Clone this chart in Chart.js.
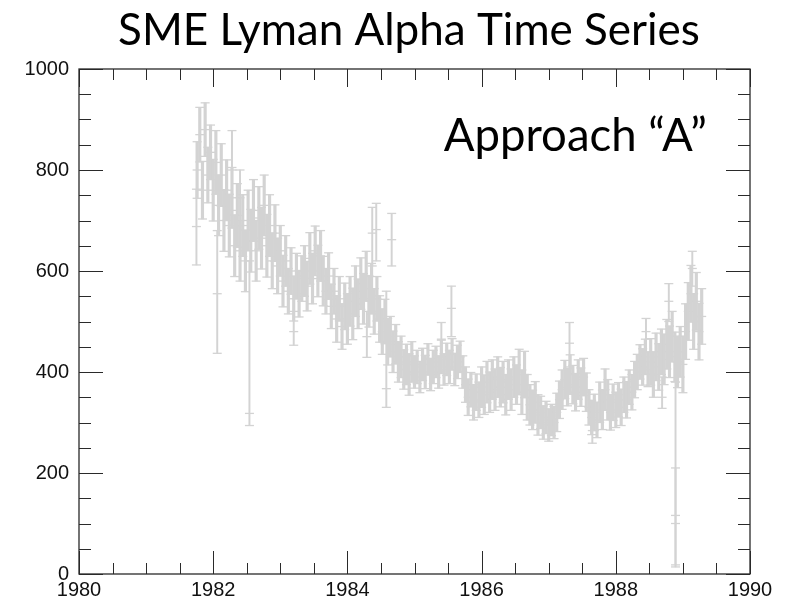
<!DOCTYPE html>
<html>
<head>
<meta charset="utf-8">
<script src="https://cdn.jsdelivr.net/npm/chart.js@4.4.0/dist/chart.umd.min.js"></script>
<style>
  html, body { margin: 0; padding: 0; background: #fff; }
</style>
</head>
<body>
<canvas id="chart" width="797" height="601"></canvas>
<script>
// SME Lyman alpha, decimal year / flux / 1-sigma error
const years = [
  1981.76, 1981.80, 1981.84, 1981.88, 1981.92, 1981.96,
  1982.00, 1982.04, 1982.08, 1982.12, 1982.16, 1982.20, 1982.24, 1982.28, 1982.32, 1982.36, 1982.40, 1982.44, 1982.48, 1982.52, 1982.56, 1982.60, 1982.64, 1982.68, 1982.72, 1982.76, 1982.80, 1982.84, 1982.88, 1982.92, 1982.96,
  1983.00, 1983.04, 1983.08, 1983.12, 1983.16, 1983.20, 1983.24, 1983.28, 1983.32, 1983.36, 1983.40, 1983.44, 1983.48, 1983.52, 1983.56, 1983.60, 1983.64, 1983.68, 1983.72, 1983.76, 1983.80, 1983.84, 1983.88, 1983.92, 1983.96,
  1984.00, 1984.04, 1984.08, 1984.12, 1984.16, 1984.20, 1984.24, 1984.28, 1984.32, 1984.36, 1984.40, 1984.44, 1984.48, 1984.52, 1984.56, 1984.60, 1984.64, 1984.68, 1984.72, 1984.76, 1984.80, 1984.84, 1984.88, 1984.92, 1984.96,
  1985.00, 1985.04, 1985.08, 1985.12, 1985.16, 1985.20, 1985.24, 1985.28, 1985.32, 1985.36, 1985.40, 1985.44, 1985.48, 1985.52, 1985.56, 1985.60, 1985.64, 1985.68, 1985.72, 1985.76, 1985.80, 1985.84, 1985.88, 1985.92, 1985.96,
  1986.00, 1986.04, 1986.08, 1986.12, 1986.16, 1986.20, 1986.24, 1986.28, 1986.32, 1986.36, 1986.40, 1986.44, 1986.48, 1986.52, 1986.56, 1986.60, 1986.64, 1986.68, 1986.72, 1986.76, 1986.80, 1986.84, 1986.88, 1986.92, 1986.96,
  1987.00, 1987.04, 1987.08, 1987.12, 1987.16, 1987.20, 1987.24, 1987.28, 1987.32, 1987.36, 1987.40, 1987.44, 1987.48, 1987.52, 1987.56, 1987.60, 1987.64, 1987.68, 1987.72, 1987.76, 1987.80, 1987.84, 1987.88, 1987.92, 1987.96,
  1988.00, 1988.04, 1988.08, 1988.12, 1988.16, 1988.20, 1988.24, 1988.28, 1988.32, 1988.36, 1988.40, 1988.44, 1988.48, 1988.52, 1988.56, 1988.60, 1988.64, 1988.68, 1988.72, 1988.76, 1988.80, 1988.84, 1988.88, 1988.92, 1988.96,
  1989.00, 1989.04, 1989.08, 1989.12, 1989.16, 1989.20, 1989.24, 1989.28
];
const lyman = [
  800, 870, 760, 880, 790, 835,
  760, 815, 730, 790, 700, 760, 690, 745, 650, 710, 640, 690, 620, 700, 660, 720, 640, 705, 665, 730, 650, 690, 620, 675, 610,
  640, 580, 620, 560, 600, 545, 590, 555, 585, 600, 570, 625, 585, 640, 600, 630, 580, 560, 590, 530, 560, 505, 545, 490, 530,
  505, 540, 515, 560, 535, 575, 545, 590, 540, 565, 520, 545, 505, 480, 500, 460, 470, 440, 455, 420, 430, 405, 415, 395, 420,
  400, 410, 390, 415, 400, 425, 395, 410, 420, 400, 430, 405, 425, 410, 435, 405, 420, 430, 400, 375, 350, 365, 340, 360, 345,
  370, 355, 380, 360, 385, 365, 390, 370, 380, 355, 385, 365, 390, 375, 400, 360, 395, 350, 335, 325, 340, 315, 320, 300, 310,
  295, 305, 300, 320, 345, 365, 385, 370, 395, 375, 360, 385, 370, 390, 360, 330, 310, 320, 305, 340, 325, 365, 345, 320, 340,
  325, 345, 330, 355, 345, 370, 360, 385, 400, 420, 410, 430, 405, 420, 395, 430, 410, 440, 425, 455, 440, 470, 430, 420, 440,
  415, 480, 520, 555, 500, 540, 480, 510
];
const errs = [
  56, 54, 57, 53, 55, 54,
  61, 63, 60, 62, 61, 60, 62, 60, 61, 63, 60, 61, 61, 60, 62, 61, 60, 62, 61, 60, 62, 61, 55, 56, 55,
  50, 51, 50, 45, 46, 44, 45, 46, 45, 50, 49, 51, 50, 49, 51, 50, 49, 45, 46, 44, 45, 46, 44, 45, 46,
  50, 49, 51, 50, 49, 51, 50, 49, 51, 50, 45, 44, 46, 45, 44, 46, 40, 41, 39, 40, 41, 39, 40, 41, 40,
  32, 33, 31, 32, 33, 31, 32, 33, 31, 32, 33, 31, 32, 33, 31, 32, 33, 31, 32, 35, 36, 34, 35, 36, 35,
  40, 39, 41, 40, 39, 41, 40, 39, 41, 40, 39, 41, 40, 39, 45, 44, 46, 45, 40, 39, 41, 40, 32, 33, 32,
  32, 31, 32, 38, 37, 39, 38, 37, 39, 38, 37, 39, 38, 37, 38, 35, 34, 36, 35, 40, 39, 41, 40, 35, 36,
  35, 34, 36, 35, 36, 34, 35, 36, 35, 34, 36, 35, 34, 46, 45, 47, 46, 45, 50, 49, 51, 50, 49, 51, 50,
  56, 55, 57, 56, 55, 57, 56, 55
];

// isolated points with long / asymmetric error bars
const outYears  = [1981.75, 1982.06, 1982.28, 1982.40, 1982.54, 1983.20, 1984.29, 1984.37, 1984.43, 1984.58, 1984.66, 1985.40, 1985.55, 1987.31, 1987.65, 1988.45, 1988.69, 1988.79, 1988.89, 1988.89, 1989.14];
const outValues = [688, 555, 800, 745, 318, 480, 470, 675, 682, 367, 662, 465, 526, 457, 284, 480, 350, 540, 116, 100, 605];
const outLow    = [612, 437, 720, 690, 294, 453, 429, 610, 620, 330, 610, 430, 470, 410, 259, 440, 328, 500, 18, 14, 570];
const outHigh   = [762, 680, 878, 800, 620, 520, 520, 726, 734, 560, 714, 498, 570, 498, 320, 506, 390, 575, 380, 210, 639];

const xLabels = [1980, 1982, 1984, 1986, 1988, 1990];
const yLabels = [0, 200, 400, 600, 800, 1000];

const grey = '#d3d3d3';

// error bar stems (floating bars) + caps/centres (line-style points)
const stems = [];
const outStems = [];
const caps = [];
years.forEach((t, i) => {
  const lo = lyman[i] - errs[i], hi = lyman[i] + errs[i];
  stems.push({ x: t, y: [lo, hi] });
  caps.push({ x: t, y: lo }, { x: t, y: hi }, { x: t, y: lyman[i] });
});
outYears.forEach((t, i) => {
  outStems.push({ x: t, y: [outLow[i], outHigh[i]] });
  caps.push({ x: t, y: outLow[i] }, { x: t, y: outHigh[i] }, { x: t, y: outValues[i] });
});

// frame with inward major/minor ticks on all four sides + the "Approach" note
const frameTicks = {
  id: 'frameTicks',
  afterDatasetsDraw(chart) {
    const { ctx, chartArea: a, scales: { x, y } } = chart;
    ctx.save();
    ctx.strokeStyle = '#2a2a2a';
    ctx.lineWidth = 1;
    ctx.beginPath();
    for (let t = 1980; t <= 1990; t += 0.5) {
      const px = Math.round(x.getPixelForValue(t)) + 0.5;
      const major = t % 2 === 0;
      ctx.moveTo(px, a.bottom);
      ctx.lineTo(px, a.bottom - (major ? 23 : 11));
      ctx.moveTo(px, a.top);
      ctx.lineTo(px, a.top + (major ? 18 : 11));
    }
    for (let v = 0; v <= 1000; v += 50) {
      const py = Math.round(y.getPixelForValue(v)) + 0.5;
      const major = v % 200 === 0;
      ctx.moveTo(a.left, py);
      ctx.lineTo(a.left + (major ? 24 : 12), py);
      ctx.moveTo(a.right, py);
      ctx.lineTo(a.right - (major ? 24 : 12), py);
    }
    ctx.stroke();
    ctx.lineWidth = 1.3;
    ctx.strokeRect(a.left, a.top, a.right - a.left, a.bottom - a.top);

    ctx.fillStyle = '#000';
    ctx.font = '45.5px Lato';
    ctx.textAlign = 'right';
    ctx.textBaseline = 'alphabetic';
    ctx.fillText('Approach \u201CA\u201D', a.right - 43, a.top + 82);
    ctx.restore();
  }
};

new Chart(document.getElementById('chart'), {
  type: 'scatter',
  data: {
    datasets: [
      {
        type: 'bar',
        data: stems,
        backgroundColor: grey,
        borderWidth: 0,
        barThickness: 2.5,
        grouped: false
      },
      {
        type: 'bar',
        data: outStems,
        backgroundColor: grey,
        borderWidth: 0,
        barThickness: 1.3,
        grouped: false
      },
      {
        type: 'scatter',
        data: caps,
        pointStyle: 'line',
        radius: 4.5,
        borderWidth: 1.3,
        borderColor: grey,
        backgroundColor: grey
      }
    ]
  },
  options: {
    responsive: false,
    animation: false,
    layout: { padding: { left: 21, right: 0, top: 0, bottom: 0 } },
    plugins: {
      legend: { display: false },
      tooltip: { enabled: false },
      title: {
        display: true,
        text: 'SME Lyman Alpha Time Series',
        color: '#000',
        font: { family: 'Lato', size: 44, weight: 'normal', lineHeight: 1.2 },
        padding: { top: 4, bottom: 12.2 }
      }
    },
    scales: {
      x: {
        type: 'linear',
        min: 1980,
        max: 1990,
        offset: false,
        grid: { display: false, drawTicks: false, offset: false },
        border: { display: false },
        afterBuildTicks: s => { s.ticks = xLabels.map(v => ({ value: v })); },
        afterFit: s => { s.height = 27; },
        ticks: {
          autoSkip: false,
          maxRotation: 0,
          padding: 4,
          color: '#111',
          font: { family: 'Liberation Sans', size: 20 },
          callback: v => String(v)
        }
      },
      y: {
        min: 0,
        max: 1000,
        grid: { display: false, drawTicks: false },
        border: { display: false },
        afterBuildTicks: s => { s.ticks = yLabels.map(v => ({ value: v })); },
        afterFit: s => { s.width = 58; },
        ticks: {
          padding: 10,
          color: '#111',
          font: { family: 'Liberation Sans', size: 20 },
          callback: v => String(v)
        }
      },
      yRight: {
        position: 'right',
        display: true,
        min: 0,
        max: 1000,
        grid: { display: false, drawTicks: false },
        border: { display: false },
        ticks: { display: false },
        afterFit: s => { s.width = 47; }
      }
    }
  },
  plugins: [frameTicks]
});
</script>
</body>
</html>
